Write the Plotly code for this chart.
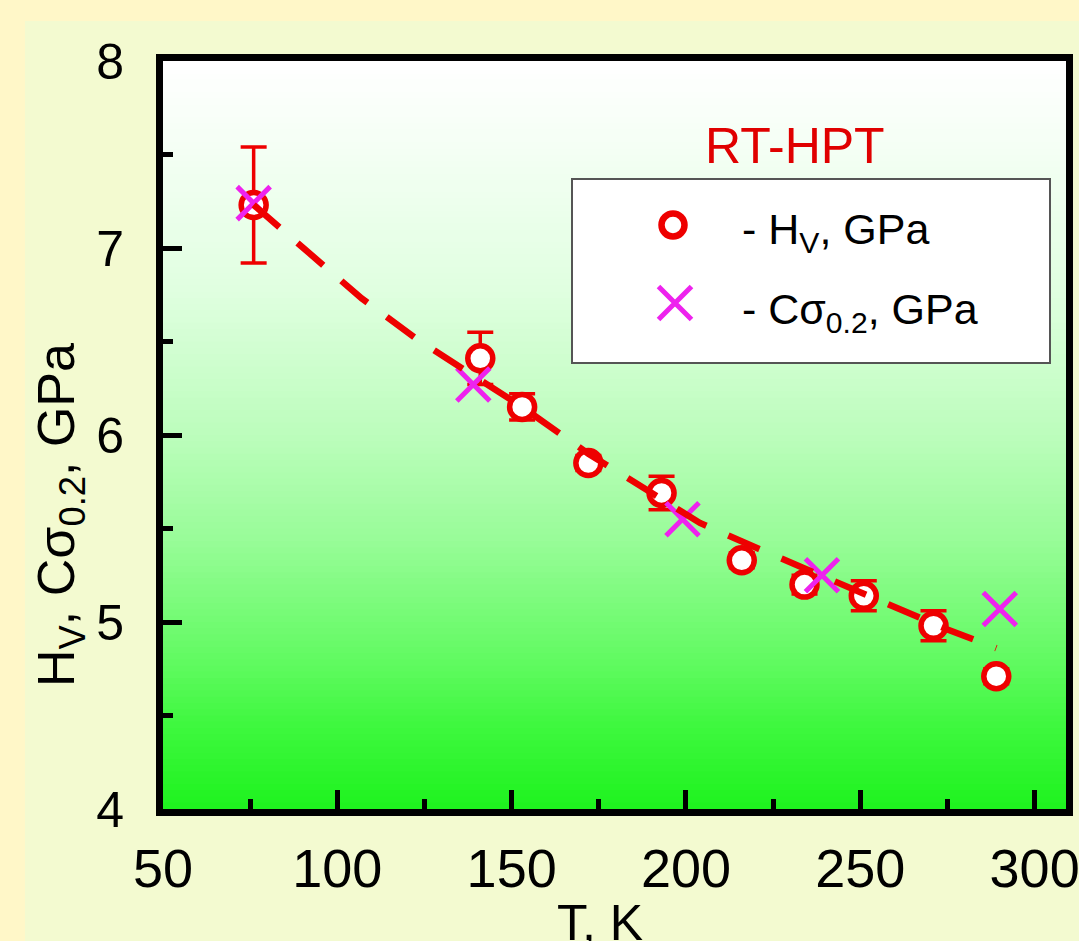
import plotly.graph_objects as go

# ---------------- data ----------------
T_hv = [76, 141, 153, 172, 193, 216, 234, 251, 271, 289]
Hv = [7.23, 6.41, 6.15, 5.85, 5.69, 5.33, 5.20, 5.14, 4.98, 4.71]
Hv_err = [0.31, 0.14, 0.07, 0.04, 0.09, 0.04, 0.05, 0.08, 0.08, 0.04]

T_sig = [76, 139, 199, 239, 290]
C_sigma = [7.24, 6.27, 5.55, 5.25, 5.07]

T_fit = [76, 93, 107, 123, 153, 172, 188, 204, 221, 255, 275, 289]
Y_fit = [7.23, 6.96, 6.73, 6.51, 6.15, 5.90, 5.72, 5.53, 5.39, 5.12, 4.96, 4.86]

x_ticks = [50, 100, 150, 200, 250, 300]
y_ticks = [4, 5, 6, 7, 8]

legend_title = "RT-HPT"
legend_labels = ["- H<sub>V</sub>, GPa", "- Cσ<sub>0.2</sub>, GPa"]
x_title = "T, K"
y_title = "H<sub>V</sub>, Cσ<sub>0.2</sub>, GPa"

# ---------------- style ----------------
RED = "#EE0000"
MAGENTA = "#EE22EE"
FONT = "Liberation Sans, Arial, sans-serif"

W, H = 1079, 941
ML, MR, MT, MB = 163, 13, 61, 132
PW, PH = W - ML - MR, H - MT - MB


def px_x(p):  # pixel -> paper x
    return (p - ML) / PW


def px_y(p):  # pixel -> paper y
    return (H - MB - p) / PH


fig = go.Figure()

fig.add_trace(go.Scatter(
    x=T_hv, y=Hv, mode="markers", name="H<sub>V</sub>, GPa",
    marker=dict(symbol="circle", size=25, color="white",
                line=dict(color=RED, width=5.5)),
    error_y=dict(type="data", array=Hv_err, visible=True,
                 color=RED, thickness=3.5, width=13),
    showlegend=False,
))
fig.add_trace(go.Scatter(
    x=T_sig, y=C_sigma, mode="markers", name="Cσ<sub>0.2</sub>, GPa",
    marker=dict(symbol="x-thin", size=33,
                line=dict(color=MAGENTA, width=5)),
    showlegend=False,
))
fig.add_trace(go.Scatter(
    x=T_fit, y=Y_fit, mode="lines", name="fit",
    line=dict(color=RED, width=6.5, dash="34px,24px"),
    showlegend=False,
))

# legend keys drawn on an overlay axis in [0,1] (plot-area fraction)
key_x = [px_x(673), px_x(675)]
key_y = [px_y(225), px_y(303)]
fig.add_trace(go.Scatter(
    x=[key_x[0]], y=[key_y[0]], xaxis="x2", yaxis="y2", mode="markers",
    marker=dict(symbol="circle", size=23, color="white",
                line=dict(color=RED, width=6.5)),
    showlegend=False, hoverinfo="skip",
))
fig.add_trace(go.Scatter(
    x=[key_x[1]], y=[key_y[1]], xaxis="x2", yaxis="y2", mode="markers",
    marker=dict(symbol="x-thin", size=33,
                line=dict(color=MAGENTA, width=5)),
    showlegend=False, hoverinfo="skip",
))

# ---------------- background ----------------
shapes = []
# light panel over the yellow paper
shapes.append(dict(type="rect", xref="paper", yref="paper", layer="below",
                   x0=px_x(25), x1=px_x(W + 5), y0=px_y(H + 5), y1=px_y(21),
                   fillcolor="#F3FAD0", line=dict(width=0)))

# vertical white->green gradient in the plot area
stops_t = [0.0, 0.11, 0.3, 0.5, 0.64, 0.8, 0.89, 1.0]
stops_rb = [255, 245, 225, 188, 152, 98, 62, 30]
stops_g = [255, 255, 255, 253, 252, 250, 248, 242]


def interp(t, xs, ys):
    for i in range(len(xs) - 1):
        if xs[i] <= t <= xs[i + 1]:
            f = (t - xs[i]) / (xs[i + 1] - xs[i])
            return ys[i] + f * (ys[i + 1] - ys[i])
    return ys[-1]


N = 120
for i in range(N):
    t = (i + 0.5) / N
    rb = int(round(interp(t, stops_t, stops_rb)))
    g = int(round(interp(t, stops_t, stops_g)))
    shapes.append(dict(type="rect", xref="x domain", yref="y domain", layer="below",
                       x0=0, x1=1, y0=1 - (i + 1) / N - 0.002, y1=1 - i / N,
                       fillcolor=f"rgb({rb},{g},{rb})", line=dict(width=0)))

# legend box (below the traces, above the gradient)
shapes.append(dict(type="rect", xref="x domain", yref="y domain", layer="below",
                   x0=px_x(572), x1=px_x(1050), y0=px_y(363), y1=px_y(179),
                   fillcolor="white", line=dict(color="#555555", width=2)))

annotations = [
    dict(text=legend_title, xref="paper", yref="paper", x=px_x(795), y=px_y(146),
         xanchor="center", yanchor="middle", showarrow=False,
         font=dict(family=FONT, size=50, color="#E00000")),
    dict(text=legend_labels[0], xref="paper", yref="paper", x=px_x(740), y=px_y(232),
         xanchor="left", yanchor="middle", showarrow=False,
         font=dict(family=FONT, size=43, color="black")),
    dict(text=legend_labels[1], xref="paper", yref="paper", x=px_x(740), y=px_y(312),
         xanchor="left", yanchor="middle", showarrow=False,
         font=dict(family=FONT, size=43, color="black")),
    dict(text=y_title, xref="paper", yref="paper", x=px_x(60), y=px_y(515),
         xanchor="center", yanchor="middle", textangle=-90, showarrow=False,
         font=dict(family=FONT, size=52, color="black")),
    dict(text=x_title, xref="paper", yref="paper", x=px_x(600), y=px_y(893),
         xanchor="center", yanchor="top", showarrow=False,
         font=dict(family=FONT, size=50, color="black")),
]

axis_common = dict(showgrid=False, zeroline=False, showline=True, linecolor="black",
                   linewidth=7, mirror=True, ticks="inside", tickcolor="black",
                   tickwidth=5, ticklen=19)

fig.update_layout(
    width=W, height=H,
    margin=dict(l=ML, r=MR, t=MT, b=MB, pad=0, autoexpand=False),
    paper_bgcolor="#FFF7C8",
    plot_bgcolor="rgba(0,0,0,0)",
    showlegend=False,
    shapes=shapes,
    annotations=annotations,
    xaxis=dict(range=[50, 309], tickvals=x_ticks, ticktext=[str(v) for v in x_ticks],
               tickfont=dict(family=FONT, size=54, color="black"),
               ticklabelstandoff=6, automargin=False, ticklabeloverflow="allow",
               minor=dict(dtick=25, tick0=50, ticks="inside", ticklen=10,
                          tickwidth=5, tickcolor="black", showgrid=False),
               **axis_common),
    yaxis=dict(range=[4, 8], tickvals=y_ticks, ticktext=[str(v) for v in y_ticks],
               tickfont=dict(family=FONT, size=50, color="black"),
               ticklabelstandoff=22, automargin=False, ticklabeloverflow="allow",
               minor=dict(dtick=0.5, tick0=4, ticks="inside", ticklen=10,
                          tickwidth=5, tickcolor="black", showgrid=False),
               **axis_common),
    xaxis2=dict(overlaying="x", anchor="y2", range=[0, 1], visible=False),
    yaxis2=dict(overlaying="y", anchor="x2", range=[0, 1], visible=False),
)

fig.write_html("out.html")
